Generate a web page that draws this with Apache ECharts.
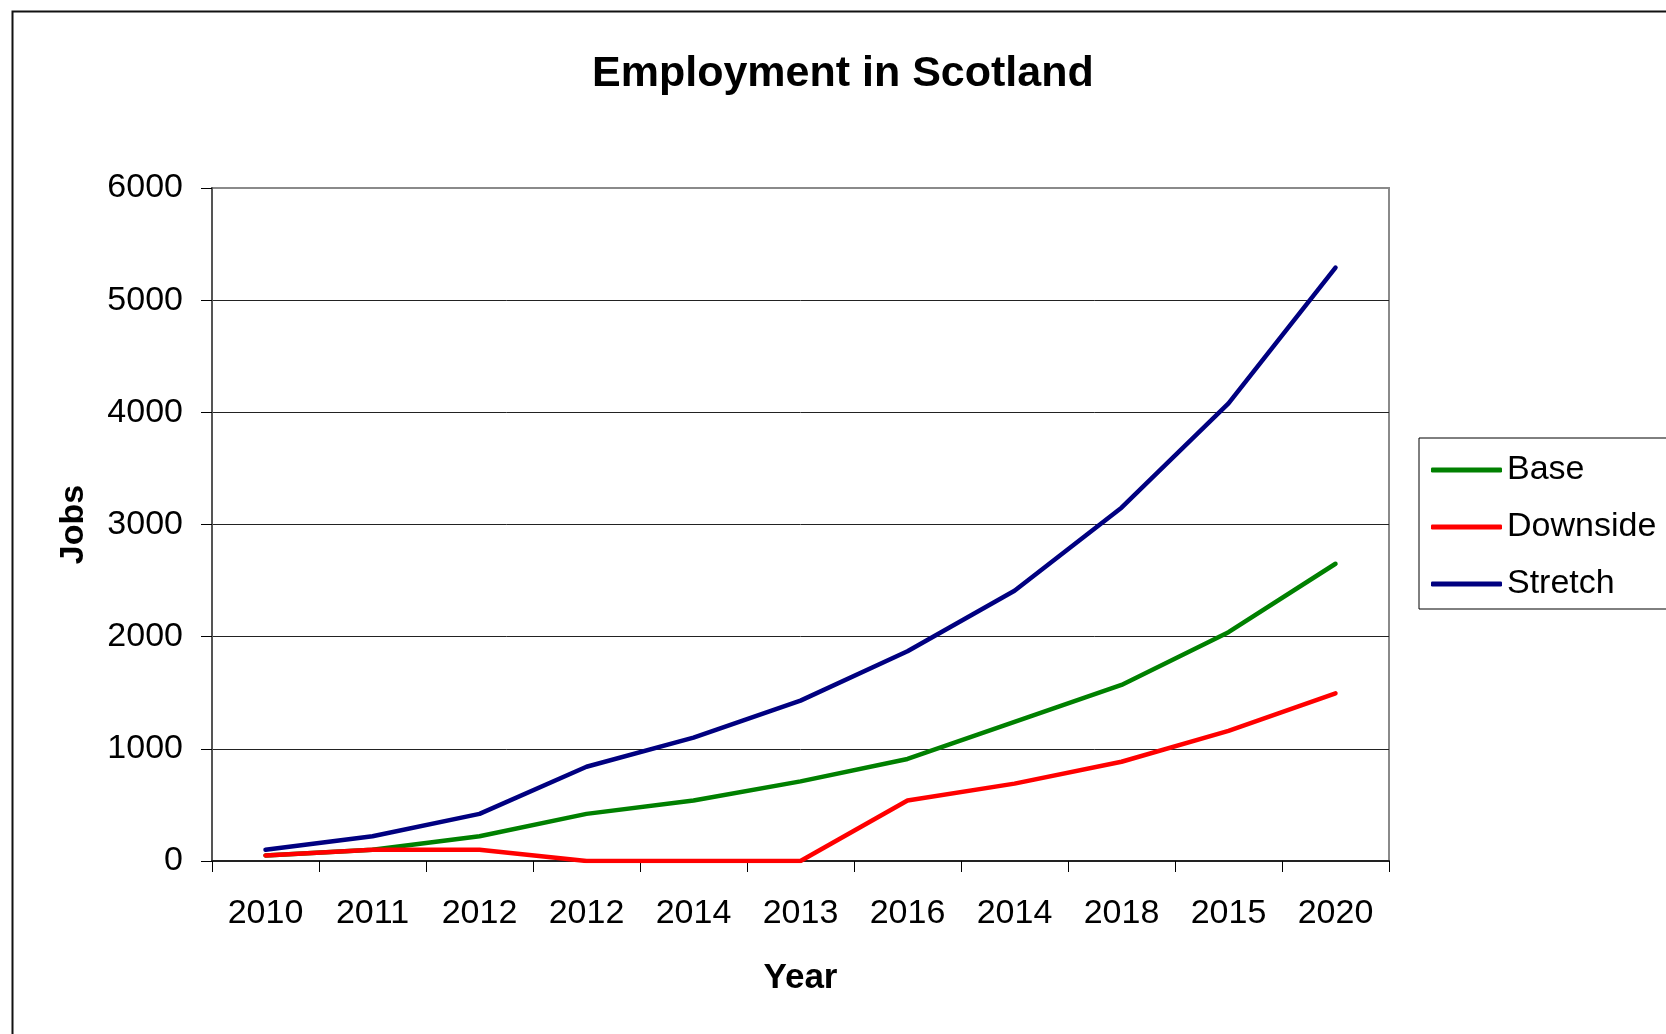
<!DOCTYPE html>
<html>
<head>
<meta charset="utf-8">
<title>Employment in Scotland</title>
<script src="https://cdn.jsdelivr.net/npm/echarts@6/dist/echarts.min.js"></script>
<style>
  html, body { margin: 0; padding: 0; background: #ffffff; }
  #chart { width: 1666px; height: 1034px; }
</style>
</head>
<body>
<div id="chart"></div>
<script>
// Year labels along the x axis (as published, including repeated years)
const years = ['2010', '2011', '2012', '2012', '2014', '2013', '2016', '2014', '2018', '2015', '2020'];

// Jobs per scenario
const baseJobs     = [50, 100, 220, 420, 540, 710, 910, 1240, 1570, 2040, 2650];
const downsideJobs = [50, 100, 100, 0, 0, 0, 540, 690, 885, 1160, 1495];
const stretchJobs  = [100, 220, 420, 840, 1100, 1430, 1870, 2410, 3150, 4080, 5290];

const seriesNames  = ['Base', 'Downside', 'Stretch'];
const seriesColors = ['#008000', '#ff0000', '#000080'];

const FONT = '"Liberation Sans", Arial, sans-serif';

const chart = echarts.init(document.getElementById('chart'), null, { renderer: 'canvas' });

function lineSeries(name, data, color) {
  return {
    name: name,
    type: 'line',
    data: data,
    symbol: 'none',
    smooth: false,
    color: color,
    lineStyle: { color: color, width: 4.5, cap: 'round', join: 'round' }
  };
}

chart.setOption({
  animation: false,
  backgroundColor: '#ffffff',
  textStyle: { fontFamily: FONT },
  title: {
    text: 'Employment in Scotland',
    left: 592,
    top: 53,
    padding: 0,
    textStyle: { fontFamily: FONT, fontSize: 43, fontWeight: 'bold', color: '#000' }
  },
  graphic: [
    {
      // outer chart frame
      type: 'rect',
      left: 10,
      top: 9,
      shape: { x: 0, y: 0, width: 1700, height: 1100 },
      style: { fill: 'none', stroke: '#111', lineWidth: 2 },
      silent: true,
      z: -1
    }
  ],
  legend: {
    orient: 'vertical',
    left: 1419,
    top: 438,
    padding: [15, 14, 8, 12],
    itemGap: 23,
    itemWidth: 71,
    itemHeight: 5,
    icon: 'roundRect',
    borderColor: '#000',
    borderWidth: 1,
    data: seriesNames,
    textStyle: { fontFamily: FONT, fontSize: 34, color: '#000' }
  },
  grid: {
    left: 212,
    top: 188,
    right: 277,
    bottom: 173,
    containLabel: false,
    show: true,
    borderColor: '#8a8a8a',
    borderWidth: 2,
    backgroundColor: '#ffffff'
  },
  xAxis: {
    type: 'category',
    data: years,
    boundaryGap: true,
    name: 'Year',
    nameLocation: 'middle',
    nameGap: 100,
    nameTextStyle: { fontFamily: FONT, fontSize: 35, fontWeight: 'bold', color: '#000' },
    axisLine: { show: true, lineStyle: { color: '#222', width: 2 } },
    axisTick: { show: true, inside: false, length: 11, alignWithLabel: false, lineStyle: { color: '#000', width: 1 } },
    axisLabel: { interval: 0, margin: 36, fontFamily: FONT, fontSize: 34, color: '#000' },
    splitLine: { show: false }
  },
  yAxis: {
    type: 'value',
    min: 0,
    max: 6000,
    interval: 1000,
    name: 'Jobs',
    nameLocation: 'middle',
    nameRotate: 90,
    nameGap: 121,
    nameTextStyle: { fontFamily: FONT, fontSize: 34, fontWeight: 'bold', color: '#000' },
    axisLine: { show: true, lineStyle: { color: '#555', width: 2 } },
    axisTick: { show: true, inside: false, length: 11, lineStyle: { color: '#000', width: 1 } },
    axisLabel: {
      margin: 29,
      fontFamily: FONT,
      fontSize: 34,
      color: '#000',
      formatter: function (v) { return String(v); }
    },
    splitLine: { show: true, showMinLine: false, showMaxLine: false, lineStyle: { color: '#222', width: 1 } }
  },
  series: [
    lineSeries(seriesNames[0], baseJobs, seriesColors[0]),
    lineSeries(seriesNames[1], downsideJobs, seriesColors[1]),
    lineSeries(seriesNames[2], stretchJobs, seriesColors[2])
  ]
});
</script>
</body>
</html>
